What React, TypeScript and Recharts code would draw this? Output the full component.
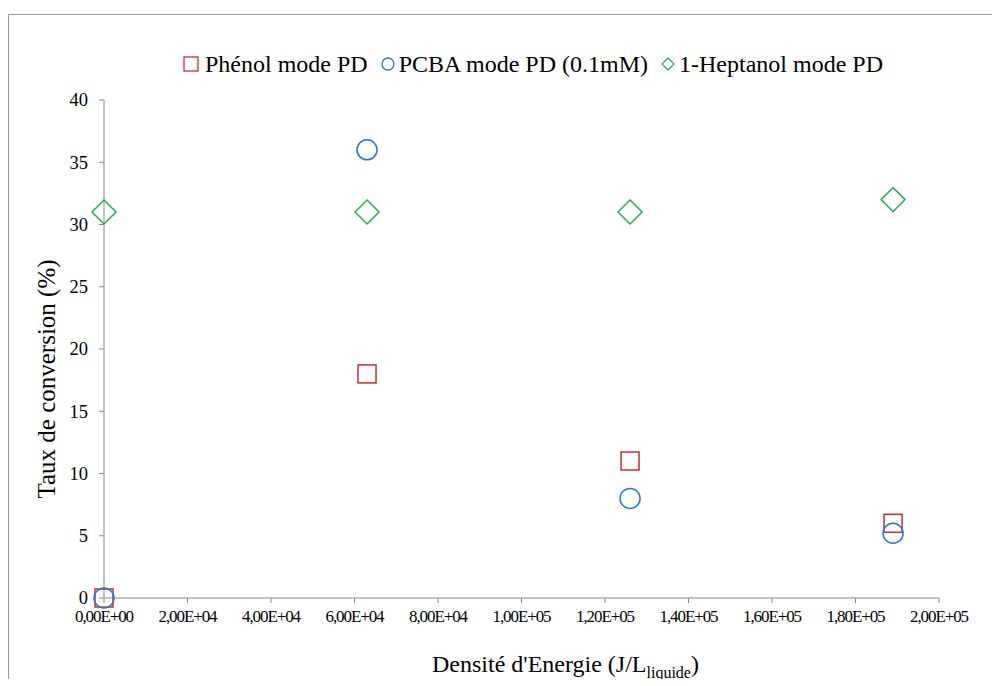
import React from 'react';
import { ScatterChart, Scatter, XAxis, YAxis, Label } from 'recharts';

const energyValues = [0, 63000, 126000, 189000];
const phenolValues = [0, 18, 11, 6];
const pcbaValues = [0, 36, 8, 5.2];
const heptanolValues = [31, 31, 31, 32];

const xTicks = [0, 20000, 40000, 60000, 80000, 100000, 120000, 140000, 160000, 180000, 200000];
const xTickLabels = ['0,00E+00', '2,00E+04', '4,00E+04', '6,00E+04', '8,00E+04', '1,00E+05', '1,20E+05', '1,40E+05', '1,60E+05', '1,80E+05', '2,00E+05'];
const yTicks = [0, 5, 10, 15, 20, 25, 30, 35, 40];

const seriesNames = ['Phénol mode PD', 'PCBA mode PD (0.1mM)', '1-Heptanol mode PD'];

const RED = '#D02A2A';
const BLUE = '#2679CF';
const GREEN = '#26B050';
const AXIS = '#878787';
const FONT = '"Liberation Serif", "Times New Roman", Times, serif';

const phenolData = energyValues.map((x, i) => ({ x, y: phenolValues[i] }));
const pcbaData = energyValues.map((x, i) => ({ x, y: pcbaValues[i] }));
const heptanolData = energyValues.map((x, i) => ({ x, y: heptanolValues[i] }));

const SquareShape = (p: any) => (
  <rect x={p.cx - 9} y={p.cy - 9} width={18} height={18} fill="none" stroke={RED} strokeWidth={1.5} />
);
const CircleShape = (p: any) => (
  <circle cx={p.cx} cy={p.cy} r={10} fill="none" stroke={BLUE} strokeWidth={1.5} />
);
const DiamondShape = (p: any) => (
  <polygon
    points={`${p.cx},${p.cy - 12} ${p.cx + 12},${p.cy} ${p.cx},${p.cy + 12} ${p.cx - 12},${p.cy}`}
    fill="none"
    stroke={GREEN}
    strokeWidth={1.5}
  />
);

const XTick = (p: any) => {
  const idx = xTicks.indexOf(p.payload.value);
  return (
    <text x={p.x} y={p.y} dy="0.71em" textAnchor="middle" fontSize={17} letterSpacing={-1.1} fontFamily={FONT} fill="#000">
      {idx >= 0 ? xTickLabels[idx] : ''}
    </text>
  );
};

const YTick = (p: any) => (
  <text x={p.x} y={p.y} dy="0.35em" textAnchor="end" fontSize={18.5} fontFamily={FONT} fill="#000">
    {p.payload.value}
  </text>
);

const XTitle = (p: any) => {
  const vb = p.viewBox;
  const cx = vb.x + vb.width / 2 + 44;
  const y = vb.y + 74;
  return (
    <text x={cx} y={y} textAnchor="middle" fontSize={24} fontFamily={FONT} fill="#000">
      Densité d'Energie (J/L
      <tspan fontSize={16} dy={6}>liquide</tspan>
      <tspan dy={-6}>)</tspan>
    </text>
  );
};

const YTitle = (p: any) => {
  const vb = p.viewBox;
  const x = vb.x + 46;
  const y = vb.y + vb.height / 2 + 30;
  return (
    <text x={x} y={y} transform={`rotate(-90 ${x} ${y})`} textAnchor="middle" fontSize={25} fontFamily={FONT} fill="#000">
      Taux de conversion (%)
    </text>
  );
};

const LegendIcon = ({ kind }: { kind: number }) => {
  if (kind === 0)
    return (
      <svg width={16} height={16} style={{ marginRight: 6 }}>
        <rect x={1} y={1} width={14} height={14} fill="none" stroke={RED} strokeWidth={1.3} />
      </svg>
    );
  if (kind === 1)
    return (
      <svg width={14} height={14} style={{ marginRight: 4 }}>
        <circle cx={7} cy={7} r={6} fill="none" stroke={BLUE} strokeWidth={1.3} />
      </svg>
    );
  return (
    <svg width={14} height={14} style={{ marginRight: 4 }}>
      <polygon points="7,1 13,7 7,13 1,7" fill="none" stroke={GREEN} strokeWidth={1.3} />
    </svg>
  );
};

export default function App() {
  return (
    <div
      style={{
        position: 'relative',
        top: 6,
        width: 991,
        height: 670,
        borderLeft: '1px solid #9a9a9a',
        borderTop: '1px solid #9a9a9a',
        background: '#fff',
      }}
    >
      <style>{`body{overflow:hidden;}`}</style>
      <div
        style={{
          position: 'absolute',
          left: 174,
          top: 35,
          height: 28,
          display: 'flex',
          alignItems: 'center',
          fontFamily: FONT,
          fontSize: 24,
          lineHeight: '28px',
          color: '#000',
          whiteSpace: 'nowrap',
        }}
      >
        {seriesNames.map((name, i) => (
          <div key={name} style={{ display: 'flex', alignItems: 'center', marginRight: 13 }}>
            <LegendIcon kind={i} />
            <span>{name}</span>
          </div>
        ))}
      </div>
      <ScatterChart width={990} height={670} margin={{ top: 85, right: 60, left: 0, bottom: 0 }}>
        <XAxis
          type="number"
          dataKey="x"
          domain={[0, 200000]}
          ticks={xTicks}
          interval={0}
          height={87}
          stroke={AXIS}
          tickSize={5}
          tickMargin={7}
          tick={<XTick />}
        >
          <Label content={<XTitle />} />
        </XAxis>
        <YAxis
          type="number"
          dataKey="y"
          domain={[0, 40]}
          ticks={yTicks}
          interval={0}
          width={95}
          stroke={AXIS}
          tickSize={5}
          tickMargin={11}
          tick={<YTick />}
        >
          <Label content={<YTitle />} />
        </YAxis>
        <Scatter name={seriesNames[0]} data={phenolData} shape={<SquareShape />} isAnimationActive={false} />
        <Scatter name={seriesNames[1]} data={pcbaData} shape={<CircleShape />} isAnimationActive={false} />
        <Scatter name={seriesNames[2]} data={heptanolData} shape={<DiamondShape />} isAnimationActive={false} />
      </ScatterChart>
    </div>
  );
}
